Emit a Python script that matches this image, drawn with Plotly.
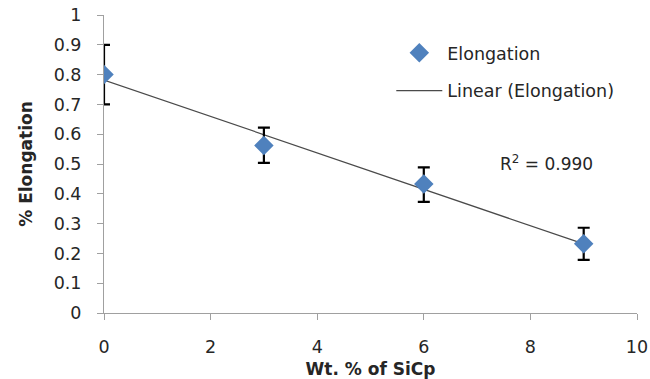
import numpy as np
import plotly.graph_objects as go

# Data
wt_sicp = [0, 3, 6, 9]
elongation = [0.80, 0.562, 0.433, 0.232]
err_plus = [0.10, 0.060, 0.056, 0.054]
err_minus = [0.10, 0.058, 0.060, 0.054]
x_ticks = [0, 2, 4, 6, 8, 10]
y_ticks = [0, 0.1, 0.2, 0.3, 0.4, 0.5, 0.6, 0.7, 0.8, 0.9, 1]
r2_label = "R<sup>2</sup> = 0.990"

slope, intercept = np.polyfit(wt_sicp, elongation, 1)
fit_x = [min(wt_sicp), max(wt_sicp)]
fit_y = [intercept + slope * v for v in fit_x]

FONT = "DejaVu Sans"
TXT = "#262626"

fig = go.Figure()
fig.add_trace(go.Scatter(
    x=fit_x, y=fit_y, mode="lines", name="Linear (Elongation)",
    line=dict(color="#4a4a4a", width=1.2), legendgroup="b", legendrank=2,
))
fig.add_trace(go.Scatter(
    x=wt_sicp, y=elongation, mode="markers", name="Elongation",
    marker=dict(symbol="diamond", size=15, color="#4F81BD"),
    error_y=dict(type="data", array=err_plus, arrayminus=err_minus,
                 color="#000000", thickness=2.2, width=6),
    legendgroup="a", legendrank=1,
))

fig.add_annotation(
    x=0.83, y=0.503, xref="paper", yref="paper", text=r2_label,
    xanchor="center", yanchor="middle",
    showarrow=False, font=dict(family=FONT, size=17, color=TXT),
)

axis_common = dict(
    showgrid=False, zeroline=False, showline=True, linecolor="#A0A0A0",
    linewidth=1, ticks="outside", ticklen=6, tickcolor="#A0A0A0",
    tickfont=dict(family=FONT, size=17.5, color=TXT), automargin=False,
)

fig.update_layout(
    width=650, height=379,
    margin=dict(l=104, r=13, t=15, b=66),
    paper_bgcolor="white", plot_bgcolor="white",
    xaxis=dict(range=[0, 10], tickvals=x_ticks, ticktext=[str(v) for v in x_ticks],
               ticklabelstandoff=12,
               title=dict(text="<b>Wt. % of SiCp</b>", standoff=7,
                          font=dict(family=FONT, size=17, color=TXT)),
               **axis_common),
    yaxis=dict(range=[0, 1], tickvals=y_ticks, ticktext=[f"{v:g}" for v in y_ticks],
               ticklabelstandoff=12,
               title=dict(text="<b>% Elongation</b>", standoff=16,
                          font=dict(family=FONT, size=17, color=TXT)),
               **axis_common),
    legend=dict(x=0.539, y=0.933, xanchor="left", yanchor="top",
                font=dict(family=FONT, size=17.5, color=TXT),
                tracegroupgap=12, bgcolor="rgba(0,0,0,0)",
                traceorder="grouped", itemwidth=46),
    showlegend=True,
)

fig.write_html("out.html")
